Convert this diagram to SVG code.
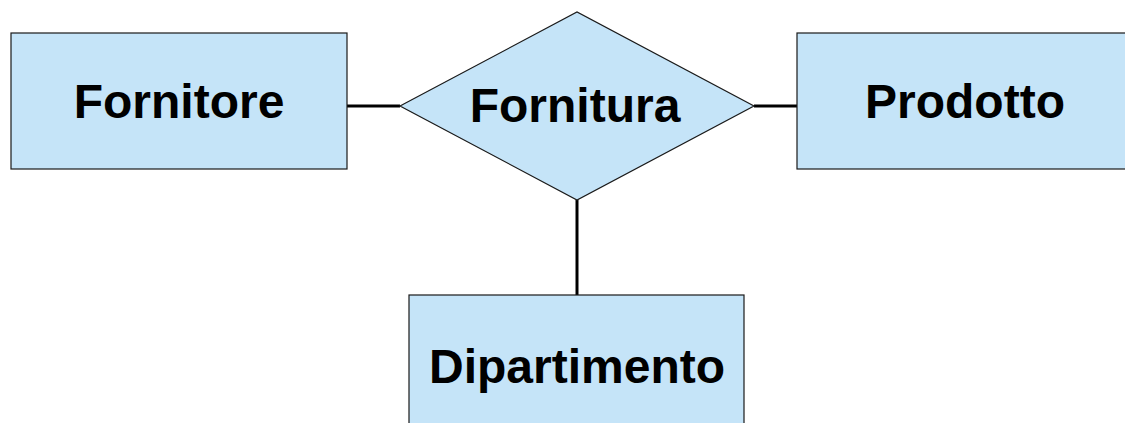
<svg xmlns="http://www.w3.org/2000/svg" width="1125" height="423" viewBox="0 0 1125 423">
<style>
.shape{fill:#c5e4f8;stroke:#1a1a1a;stroke-width:1.2}
.lbl{font-family:"Liberation Sans",Arial,sans-serif;font-weight:bold;font-size:48px;fill:#000;text-anchor:middle}
.conn{stroke:#000;stroke-width:3;fill:none}
</style>
<rect width="1125" height="423" fill="#fff"/>
<g id="connectors">
<line class="conn" x1="347" y1="106" x2="400" y2="106"/>
<line class="conn" x1="754" y1="106" x2="797" y2="106"/>
<line class="conn" x1="577" y1="200" x2="577" y2="295"/>
</g>
<g id="fornitore">
<rect class="shape" x="11" y="33" width="336" height="136"/>
<text class="lbl" x="179" y="118">Fornitore</text>
</g>
<g id="fornitura">
<polygon class="shape" points="400,106 577,12 754,106 577,200"/>
<text class="lbl" x="575" y="122">Fornitura</text>
</g>
<g id="prodotto">
<rect class="shape" x="797" y="33" width="336" height="136"/>
<text class="lbl" x="965" y="118">Prodotto</text>
</g>
<g id="dipartimento">
<rect class="shape" x="409" y="295" width="335" height="140"/>
<text class="lbl" x="577" y="383">Dipartimento</text>
</g>
</svg>
